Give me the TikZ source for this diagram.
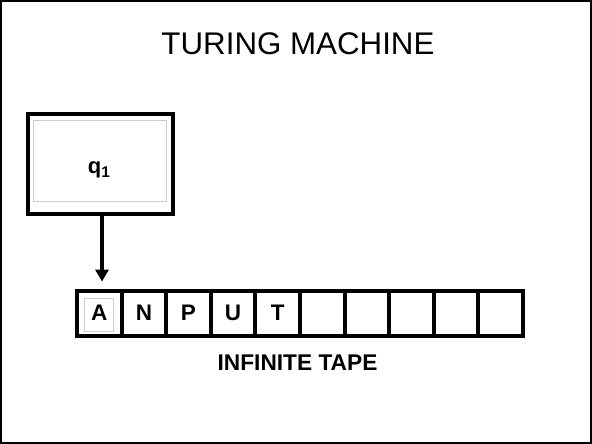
\documentclass[tikz,border=0pt]{standalone}
\usepackage{fontspec}
\setmainfont{Liberation Sans}
\usetikzlibrary{arrows.meta}

\begin{document}
\begin{tikzpicture}[x=1pt,y=-1pt]

%
% Styles
%
\tikzstyle{frame} = [draw=black,line width=2pt]
\tikzstyle{statebox} = [rectangle,draw=black,line width=3.5pt,minimum width=145pt,minimum height=100pt,inner sep=0pt]
\tikzstyle{cell} = [rectangle,draw=black,line width=4pt,minimum width=44.6pt,minimum height=45.3pt,inner sep=0pt,font=\fontsize{22.5}{26}\selectfont\bfseries]
\tikzstyle{ghost} = [draw=black!20,line width=0.8pt]

\useasboundingbox (0,0) rectangle (592,444);
\draw[frame] (1,1) rectangle (591,443);

\node[anchor=base] (title) at (298,55) {\fontsize{31.3}{36}\selectfont TURING MACHINE};

% control unit
\node[statebox] (q) at (100.5,164) {};
\draw[ghost] (33,120) rectangle (166,201);
\node[anchor=base] (qlabel) at (99,173) {\bfseries\fontsize{22}{24}\selectfont q\raisebox{-4pt}{\fontsize{15.5}{17}\selectfont 1}};

% tape
\node[cell] (a)  at (99.3,313.2)  {A};
\node[cell] (n)  at (143.9,313.2) {N};
\node[cell] (p)  at (188.5,313.2) {P};
\node[cell] (u)  at (233.1,313.2) {U};
\node[cell] (t)  at (277.7,313.2) {T};
\node[cell] (e1) at (322.3,313.2) {};
\node[cell] (e2) at (366.9,313.2) {};
\node[cell] (e3) at (411.5,313.2) {};
\node[cell] (e4) at (456.1,313.2) {};
\node[cell] (e5) at (500.7,313.2) {};
\draw[ghost] (84,298) rectangle (113,331);

\node[anchor=base] (tape) at (297.5,370) {\fontsize{22.7}{26}\selectfont\bfseries INFINITE TAPE};

\draw[-{Triangle[length=12pt,width=13pt]},line width=4pt,shorten >=7pt] (q.south -| 102,0) -- (a.north -| 102,0);

\end{tikzpicture}
\end{document}
